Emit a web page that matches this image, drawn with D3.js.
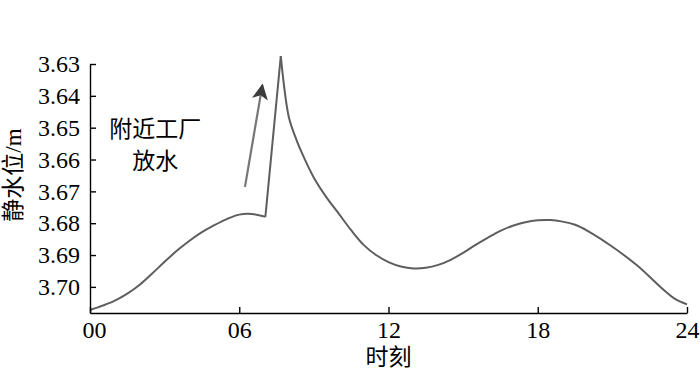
<!DOCTYPE html>
<html lang="zh">
<head>
<meta charset="UTF-8" />
<title>静水位</title>
<style>
  body { margin: 0; background: #fff; }
  svg { display: block; }
  .axis path, .axis line { stroke: #000; stroke-width: 1.4px; }
  .axis text { font-family: "Liberation Serif", "Noto Sans CJK SC", serif; font-size: 24px; fill: #000; }
  .cjk { font-family: "Liberation Serif", "Noto Sans CJK SC", serif; fill: #000; }
  .curve { fill: none; stroke: #5e5e5e; stroke-width: 2px; stroke-linejoin: round; }
</style>
</head>
<body>
<svg width="700" height="376"></svg>
<script src="https://d3js.org/d3.v7.min.js"></script>
<script>
// hours of day and static water level (m)
const hours = [0, 0.5, 1, 1.5, 2, 2.5, 3, 3.5, 4, 4.5, 5, 5.5, 6, 6.5, 7.05,
  7.67,
  8.0, 8.3, 8.5, 9, 9.5, 10, 10.5, 11, 11.5, 12, 12.5, 13, 13.5, 14, 14.5, 15,
  15.5, 16, 16.5, 17, 17.5, 18, 18.5, 19, 19.5, 20, 21, 22, 23, 23.5, 24];
const level = [3.7073, 3.7059, 3.7043, 3.7021, 3.6993, 3.6958, 3.6921, 3.6886, 3.6855, 3.6828, 3.6806, 3.6787, 3.6773, 3.6771, 3.6780,
  3.6275,
  3.6469, 3.6538, 3.6576, 3.6657, 3.6718, 3.6770, 3.6822, 3.6868, 3.6900, 3.6922, 3.6936, 3.6942, 3.6940, 3.6931, 3.6915, 3.6893,
  3.6868, 3.6845, 3.6824, 3.6808, 3.6797, 3.6791, 3.6790, 3.6795, 3.6805, 3.6824, 3.6874, 3.6933, 3.7005, 3.7037, 3.7055];

const xTicks = [0, 6, 12, 18, 24];
const yTicks = [3.63, 3.64, 3.65, 3.66, 3.67, 3.68, 3.69, 3.70];

// note "附近工厂放水" and its arrow (hour, level)
const noteLines = ["附近工厂", "放水"];
const noteAt = [2.62, 3.6529];
const arrowFrom = [6.23, 3.6686];
const arrowTo = [6.93, 3.6366];

const svg = d3.select("svg");
const x = d3.scaleLinear().domain([0, 24]).range([90, 687]);
const y = d3.scaleLinear().domain([3.63, 3.7082]).range([64, 313]);

const pts = hours.map((h, i) => [h, level[i]]);
const peak = level.indexOf(d3.min(level));
const foot = peak - 1;
const pieces = [pts.slice(0, foot + 1), pts.slice(foot, peak + 1), pts.slice(peak)];

const line = d3.line()
  .x(d => x(d[0]))
  .y(d => y(d[1]))
  .curve(d3.curveCatmullRom.alpha(0.5));

svg.append("g")
  .selectAll("path")
  .data(pieces)
  .join("path")
  .attr("class", "curve")
  .attr("d", line);

svg.append("g")
  .attr("class", "axis")
  .attr("transform", `translate(0,${y.range()[1]})`)
  .call(d3.axisBottom(x).tickValues(xTicks).tickFormat(d3.format("02d"))
    .tickSizeInner(-6).tickSizeOuter(0).tickPadding(8))
  .call(g => g.selectAll(".tick text").filter(d => d === 0).attr("dx", 4));

svg.append("g")
  .attr("class", "axis")
  .attr("transform", `translate(${x.range()[0]},0)`)
  .call(d3.axisLeft(y).tickValues(yTicks).tickFormat(d3.format(".2f"))
    .tickSizeInner(-6).tickSizeOuter(0).tickPadding(10));

svg.append("text")
  .attr("class", "cjk")
  .attr("x", (x.range()[0] + x.range()[1]) / 2)
  .attr("y", 365)
  .attr("text-anchor", "middle")
  .style("font-size", "23px")
  .text("时刻");

svg.append("text")
  .attr("class", "cjk")
  .attr("transform", `translate(21,175) rotate(-90)`)
  .attr("text-anchor", "middle")
  .style("font-size", "23px")
  .text("静水位/m");

// annotation
const note = svg.append("text")
  .attr("class", "cjk")
  .attr("text-anchor", "middle")
  .style("font-size", "23px");
note.selectAll("tspan")
  .data(noteLines)
  .join("tspan")
  .attr("x", x(noteAt[0]))
  .attr("y", (d, i) => y(noteAt[1]) + i * 32)
  .text(d => d);

svg.append("defs").append("marker")
  .attr("id", "head")
  .attr("viewBox", "0 0 10 10")
  .attr("refX", 9).attr("refY", 5)
  .attr("markerWidth", 18).attr("markerHeight", 16)
  .attr("markerUnits", "userSpaceOnUse")
  .attr("orient", "auto")
  .append("path")
  .attr("d", "M0,0 L10,5 L0,10 L2.5,5 Z")
  .attr("fill", "#3c3c3c");

svg.append("line")
  .attr("x1", x(arrowFrom[0])).attr("y1", y(arrowFrom[1]))
  .attr("x2", x(arrowTo[0])).attr("y2", y(arrowTo[1]))
  .attr("stroke", "#777").attr("stroke-width", 2.2)
  .attr("marker-end", "url(#head)");
</script>
</body>
</html>
